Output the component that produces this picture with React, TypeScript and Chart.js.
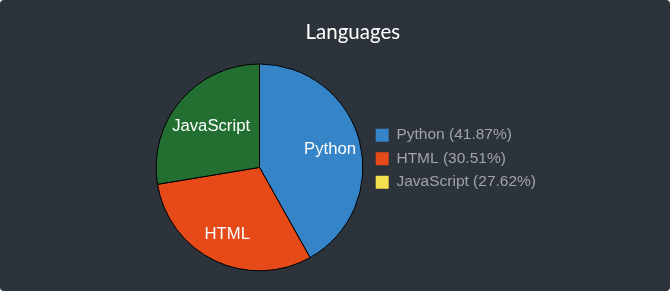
import React, { useEffect, useRef } from 'react';
import { Chart, registerables } from 'chart.js';

Chart.register(...registerables);

const TITLE = 'Languages';
const categories = ['Python', 'HTML', 'JavaScript'];
const shares = [41.87, 30.51, 27.62];
const sliceColors = ['#3584c8', '#e64a19', '#236e31'];
const legendColors = ['#3584c8', '#e64a19', '#f4e04d'];

const BG = '#2d333b';
const LEGEND_TEXT = '#a0a4a9';
const SANS = '"Liberation Sans", Arial, Helvetica, sans-serif';

const sliceLabels = {
  id: 'sliceLabels',
  afterDatasetsDraw(chart: any) {
    const { ctx } = chart;
    const meta = chart.getDatasetMeta(0);
    ctx.save();
    ctx.font = `16.7px ${SANS}`;
    ctx.fillStyle = '#ffffff';
    ctx.textAlign = 'center';
    ctx.textBaseline = 'middle';
    meta.data.forEach((arc: any, i: number) => {
      const { x, y, startAngle, endAngle, outerRadius } = arc.getProps(
        ['x', 'y', 'startAngle', 'endAngle', 'outerRadius'],
        true
      );
      const mid = (startAngle + endAngle) / 2;
      const text = categories[i];
      const hw = ctx.measureText(text).width / 2;
      const hh = 7.5;
      const limit = outerRadius - 3;
      const fits = (dd: number) => {
        const cx = dd * Math.cos(mid);
        const cy = dd * Math.sin(mid);
        return [
          [-1, -1],
          [1, -1],
          [-1, 1],
          [1, 1],
        ].every(([sx, sy]) => Math.hypot(cx + sx * hw, cy + sy * hh) <= limit);
      };
      let d = outerRadius * 0.72;
      while (d > 0 && !fits(d)) d -= 0.5;
      ctx.fillText(text, x + d * Math.cos(mid), y + d * Math.sin(mid));
    });
    ctx.restore();
  },
};

const legendWidth = {
  id: 'legendWidth',
  beforeLayout(chart: any, _args: any, opts: any) {
    const lg = chart.legend;
    if (lg && !lg._fixedFit) {
      const orig = lg.fit.bind(lg);
      lg.fit = () => {
        orig();
        lg.width = opts.width;
      };
      lg._fixedFit = true;
    }
  },
};

export default function App() {
  const ref = useRef<HTMLCanvasElement | null>(null);

  useEffect(() => {
    if (!ref.current) return;
    const chart = new Chart(ref.current, {
      type: 'pie',
      data: {
        labels: categories,
        datasets: [
          {
            data: shares,
            backgroundColor: sliceColors,
            borderColor: '#000000',
            borderWidth: 1,
          },
        ],
      },
      options: {
        responsive: false,
        animation: false,
        layout: { padding: { top: 0, bottom: 19.7, left: 151.3, right: 115.7 } },
        plugins: {
          title: {
            display: true,
            text: TITLE,
            color: '#ffffff',
            font: { family: 'Lato', size: 20.5, weight: 'normal', lineHeight: 1.2 },
            padding: { top: 19.7, bottom: 19.2 },
          },
          legend: {
            position: 'right',
            title: {
              display: true,
              text: '',
              font: { size: 10, lineHeight: 1 },
              padding: { top: 36.1, bottom: 0 },
            },
            labels: {
              boxWidth: 13,
              boxHeight: 13,
              padding: 8,
              color: LEGEND_TEXT,
              font: { family: SANS, size: 15.5 },
              generateLabels: () =>
                categories.map((c, i) => ({
                  text: `${c} (${shares[i].toFixed(2)}%)`,
                  fillStyle: legendColors[i],
                  strokeStyle: legendColors[i],
                  lineWidth: 0,
                  fontColor: LEGEND_TEXT,
                  hidden: false,
                  index: i,
                })),
            },
          },
          tooltip: { enabled: false },
          legendWidth: { width: 186.6 },
        } as any,
      },
      plugins: [sliceLabels, legendWidth],
    } as any);
    return () => chart.destroy();
  }, []);

  return (
    <div
      style={{
        position: 'fixed',
        left: 0,
        top: 0,
        width: 670,
        height: 291,
        background: BG,
        borderRadius: 4,
        overflow: 'hidden',
      }}
    >
      <canvas ref={ref} width={670} height={291} style={{ display: 'block' }} />
    </div>
  );
}
